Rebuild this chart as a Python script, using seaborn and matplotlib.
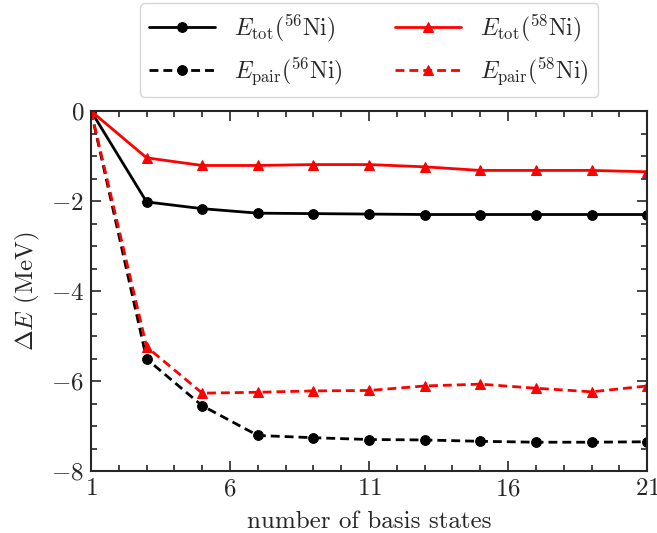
import numpy as np
import pandas as pd
import seaborn as sns
import matplotlib.pyplot as plt
from matplotlib.ticker import MultipleLocator, FixedLocator

# basis-state counts and energy differences (MeV)
n_basis = [1, 3, 5, 7, 9, 11, 13, 15, 17, 19, 21]
e_tot_56 = [0.0, -2.02, -2.17, -2.27, -2.28, -2.29, -2.30, -2.30, -2.30, -2.30, -2.30]
e_pair_56 = [0.0, -5.51, -6.55, -7.21, -7.26, -7.30, -7.31, -7.34, -7.36, -7.36, -7.35]
e_tot_58 = [0.0, -1.04, -1.21, -1.21, -1.19, -1.19, -1.24, -1.32, -1.32, -1.32, -1.35]
e_pair_58 = [0.0, -5.24, -6.27, -6.25, -6.22, -6.21, -6.11, -6.07, -6.16, -6.24, -6.11]

sns.set_style("ticks")
plt.rcParams['font.family'] = 'serif'
plt.rcParams['font.serif'] = ['cmr10', 'DejaVu Serif']
plt.rcParams['mathtext.fontset'] = 'cm'
plt.rcParams['axes.unicode_minus'] = True
plt.rcParams['axes.formatter.use_mathtext'] = True

fig = plt.figure(figsize=(6.57, 5.33), dpi=100)
ax = fig.add_axes([0.1385, 0.1163, 0.8465, 0.6754])

series = [
    (e_tot_56, 'black', '-', 'o', r'$E_{\rm tot}(^{56}{\rm Ni})$'),
    (e_pair_56, 'black', '--', 'o', r'$E_{\rm pair}(^{56}{\rm Ni})$'),
    (e_tot_58, 'red', '-', '^', r'$E_{\rm tot}(^{58}{\rm Ni})$'),
    (e_pair_58, 'red', '--', '^', r'$E_{\rm pair}(^{58}{\rm Ni})$'),
]
for vals, color, ls, mk, label in series:
    line_kw = dict(dashes=(3.2, 1.8)) if ls == '--' else dict(linestyle=ls)
    sns.lineplot(x=n_basis, y=vals, ax=ax, color=color,
                 marker=mk, markersize=7, markeredgecolor=color,
                 linewidth=2, label=label, **line_kw)

ax.set_xlim(1, 21)
ax.set_ylim(-8, 0)
ax.xaxis.set_major_locator(FixedLocator([1, 6, 11, 16, 21]))
ax.xaxis.set_minor_locator(MultipleLocator(1))
ax.yaxis.set_major_locator(MultipleLocator(2))
ax.yaxis.set_minor_locator(MultipleLocator(0.5))
ax.tick_params(which='both', direction='in', top=True, right=True, labelsize=18, width=1.2)
ax.tick_params(which='major', length=7, pad=5)
ax.tick_params(which='minor', length=4)
for s in ax.spines.values():
    s.set_linewidth(1.5)

ax.set_xlabel('number of basis states', fontsize=18, labelpad=8)
ax.set_ylabel(r'$\Delta E$ (MeV)', fontsize=18, labelpad=6)

ax.legend(loc='lower center', bbox_to_anchor=(0.5, 1.02), ncol=2,
          fontsize=17, frameon=True, fancybox=True, edgecolor='#cccccc',
          handlelength=2.8, columnspacing=2.2, borderaxespad=0.3)

fig.savefig('out.png', dpi=100)
